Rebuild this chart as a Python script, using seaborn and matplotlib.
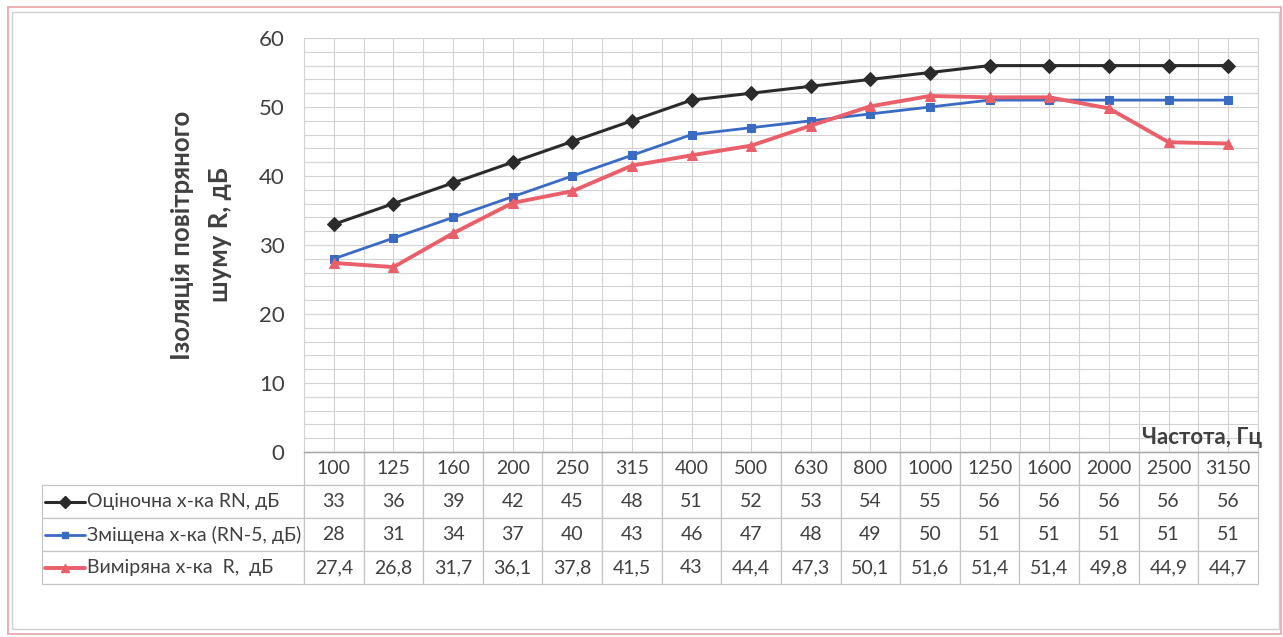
import matplotlib
matplotlib.use('Agg')
import numpy as np
import seaborn as sns
from matplotlib import pyplot as plt
from matplotlib.table import Table
from matplotlib.lines import Line2D
from matplotlib.patches import Rectangle
from matplotlib.ticker import MultipleLocator

freqs = ['100', '125', '160', '200', '250', '315', '400', '500', '630', '800',
         '1000', '1250', '1600', '2000', '2500', '3150']
rn = [33, 36, 39, 42, 45, 48, 51, 52, 53, 54, 55, 56, 56, 56, 56, 56]
rn_shift = [28, 31, 34, 37, 40, 43, 46, 47, 48, 49, 50, 51, 51, 51, 51, 51]
measured = [27.4, 26.8, 31.7, 36.1, 37.8, 41.5, 43, 44.4, 47.3, 50.1, 51.6, 51.4,
            51.4, 49.8, 44.9, 44.7]
series_names = ['Оціночна х-ка RN, дБ', 'Зміщена х-ка (RN-5, дБ)', 'Виміряна х-ка  R,  дБ']

colors = ['#2b2b2b', '#3a6bc2', '#e9606b']
markers = ['D', 's', '^']
widths = [2.2, 2.0, 2.8]
msizes = [7, 5.5, 6.5]
zorders = [5, 3, 4]

sns.set_style('white')
plt.rcParams['font.family'] = ['Lato', 'Roboto', 'DejaVu Sans']

W, H = 1283, 637
fig = plt.figure(figsize=(W / 100, H / 100), dpi=100)
fig.patch.set_facecolor('white')

# plot area in pixels
left, right, top, bottom = 304, 1258, 38, 452
ax = fig.add_axes([left / W, 1 - bottom / H, (right - left) / W, (bottom - top) / H])

n = len(freqs)
pos = np.arange(n)
for name, vals, c, m, lw, ms, z in zip(series_names, [rn, rn_shift, measured],
                                       colors, markers, widths, msizes, zorders):
    sns.lineplot(x=pos, y=vals, color=c, marker=m, lw=lw, ms=ms, mec=c,
                 ax=ax, zorder=z, legend=False)

ax.set_xlim(-0.5, n - 0.5)
ax.set_ylim(0, 60)
ax.set_xlabel('')
ax.set_ylabel('')
ax.yaxis.set_major_locator(MultipleLocator(10))
ax.yaxis.set_minor_locator(MultipleLocator(2))
ax.set_xticks(np.arange(-0.5, n, 1))
ax.set_xticks(pos, minor=True)
ax.grid(which='both', color='#d2d2d2', lw=0.8)
ax.tick_params(axis='x', which='both', length=0, labelbottom=False)
ax.tick_params(axis='y', which='major', length=6, color='#bdbdbd', width=0.8,
               labelsize=16, labelcolor='#404040', pad=8)
ax.tick_params(axis='y', which='minor', length=0)
for s in ['left', 'top', 'right']:
    ax.spines[s].set_color('#d2d2d2')
    ax.spines[s].set_linewidth(0.8)
ax.spines['bottom'].set_color('#a8a8a8')
ax.spines['bottom'].set_linewidth(1.0)

ax.text(1.004, 0.036, 'Частота, Гц', transform=ax.transAxes, ha='right', va='center',
        fontsize=16, fontweight='bold', color='#404040')

fig.text(201 / W, 1 - 235 / H, 'Ізоляція повітряного\nшуму R, дБ', rotation=90,
         ha='center', va='center', multialignment='center', fontsize=18.5,
         fontweight='bold', color='#404040', linespacing=1.75)

# data table under the plot
tab_left, label_w, row_px, n_rows = 42, left - 42, 33, 4
ax_w, ax_h = right - left, bottom - top
cat_w = ax_w / n
tx0 = (tab_left - left) / ax_w
tw = (right - tab_left) / ax_w
th = row_px * n_rows / ax_h
tbl = Table(ax, bbox=[tx0, -th, tw, th])
edge = '#c4c4c4'

corner = tbl.add_cell(0, 0, width=label_w, height=row_px, text='')
corner.visible_edges = ''
for j, f in enumerate(freqs):
    tbl.add_cell(0, j + 1, width=cat_w, height=row_px, text=f, loc='center')
for i, (name, vals) in enumerate(zip(series_names, [rn, rn_shift, measured])):
    c = tbl.add_cell(i + 1, 0, width=label_w, height=row_px, text=name, loc='left')
    c.PAD = 45 / label_w
    for j, v in enumerate(vals):
        tbl.add_cell(i + 1, j + 1, width=cat_w, height=row_px,
                     text=('%g' % v).replace('.', ','), loc='center')
tbl.auto_set_font_size(False)
tbl.set_fontsize(14)
for cell in tbl.get_celld().values():
    cell.set_edgecolor(edge)
    cell.set_linewidth(0.9)
    cell.get_text().set_color('#404040')
ax.add_table(tbl)

# legend keys inside the label cells
for i, (c, m, lw, ms) in enumerate(zip(colors, markers, widths, msizes)):
    yk = -th + th * (1 - (i + 1.5) / n_rows)
    xa = tx0 + 3 / ax_w
    xb = tx0 + 43 / ax_w
    key = Line2D([xa, (xa + xb) / 2, xb], [yk, yk, yk], transform=ax.transAxes,
                 color=c, lw=lw, marker=m, ms=ms - 1, mec=c, markevery=[1], clip_on=False)
    ax.add_line(key)

# outer chart frame
fig.patches.append(Rectangle((8 / W, 1 - 634 / H), 1273 / W, 627 / H,
                             transform=fig.transFigure, fill=False, ec='#e6a3a3', lw=1.2))
fig.patches.append(Rectangle((12 / W, 1 - 629 / H), 1267 / W, 617 / H,
                             transform=fig.transFigure, fill=False, ec='#cfcfcf', lw=1.0))

fig.savefig('out.png', dpi=100)
